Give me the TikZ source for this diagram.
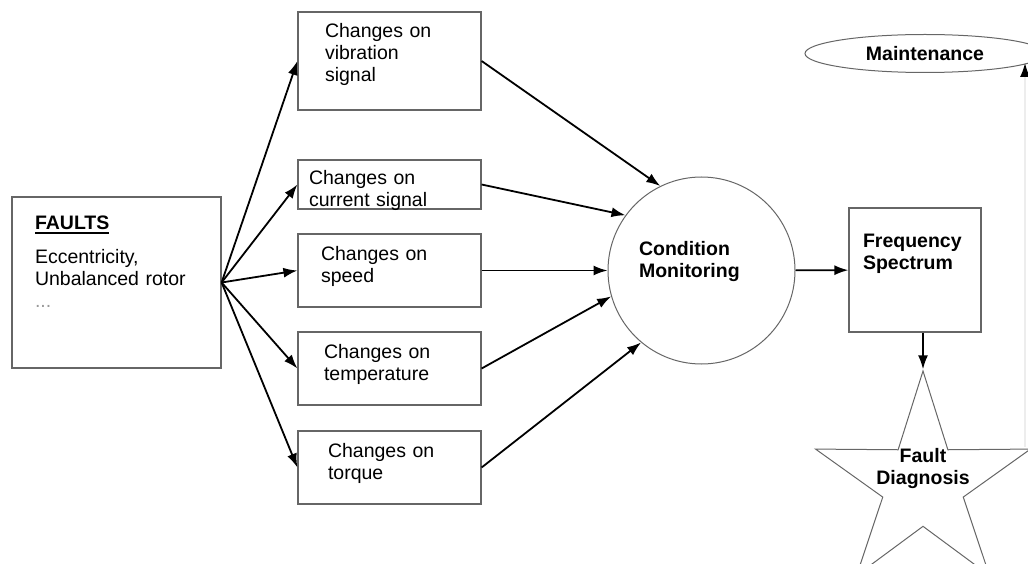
\documentclass[tikz,border=0pt]{standalone}
\usepackage{fontspec}
\setmainfont{Liberation Sans}
\usetikzlibrary{arrows.meta,shapes.geometric,shapes.misc}

\newcommand\diagfont{\fontsize{19.5}{22}\selectfont}
\newcommand\thickul[1]{\setbox0\hbox{#1}\rlap{\rule[-4pt]{\wd0}{1.8pt}}\box0}

\tikzset{
  boxline/.style = {draw=black!60, line width=1.2pt},
  changebox/.style = {boxline, minimum width=183pt, minimum height=73pt,
    inner sep=0pt, align=left, text depth=34pt, font=\diagfont},
  bold/.style = {font=\diagfont\bfseries},
  link/.style = {->, line width=1.8pt}
}

\begin{document}
\begin{tikzpicture}[x=1pt, y=-1pt, >={Latex[length=14pt,width=10pt]}]
  \useasboundingbox (0,0) rectangle (1028,564);

  % faults
  \node[boxline, minimum width=209pt, minimum height=171pt, inner sep=0pt,
        text width=163pt, align=left, text depth=119pt, font=\diagfont]
        (faults) at (116.5,282.5)
        {\thickul{\textbf{FAULTS}}\\[12pt] Eccentricity,\\ Unbalanced rotor\\ {\color{black!40}...}};

  % changes
  \node[changebox, minimum height=98pt, text width=129pt, text depth=62pt] (vib) at (389.5,61)
        {Changes on\\ vibration\\ signal};
  \node[changebox, minimum height=49pt, text width=161pt, text depth=15pt] (cur) at (389.5,184.5)
        {Changes on\\ current signal};
  \node[changebox, text width=137pt] (speed) at (389.5,270.5) {Changes on\\ speed};
  \node[changebox, text width=131pt] (temp) at (389.5,368.5) {Changes on\\ temperature};
  \node[changebox, text width=123pt] (torque) at (389.5,467.5) {Changes on\\ torque};

  % monitoring and diagnosis
  \node[boxline, line width=1pt, circle, minimum size=187pt, inner sep=0pt, bold,
        text width=125pt, align=left, text depth=45pt] (cm) at (701.5,270.5)
        {Condition\\ Monitoring};
  \node[boxline, minimum width=132pt, minimum height=124pt, inner sep=0pt, bold,
        text width=104pt, align=left, text depth=58pt] (freq) at (915,270)
        {Frequency\\ Spectrum};
  \node[boxline, line width=1pt, ellipse, minimum width=240pt, minimum height=38pt,
        inner sep=0pt, bold] (maint) at (925,53.5) {Maintenance};
  \node[boxline, line width=1pt, star, star points=5, star point ratio=2.67,
        minimum size=226pt, inner sep=0pt,
        label={[bold, text width=110pt, align=center, text depth=14pt, yshift=22pt]center:Fault\\ Diagnosis}]
        (diag) at (923,484) {};

  \foreach \b in {vib,cur,speed,temp,torque}
    \draw[link] (faults.east) -- (\b.west);
  \foreach \b/\a in {vib/116,cur/144,speed/180,temp/196,torque/230}
    \draw[link] (\b.east) -- (cm.\a);

  \draw[link] (cm) -- (freq);
  \draw[link] (diag.north |- freq.south) -- (diag.north);

  \coordinate (back) at (1025,447);
  \coordinate (backtip) at (1025,63);
  \draw[line width=1.5pt, draw=black!7, -{Latex[length=14pt,width=10pt,color=black]}] (back) -- (backtip);

\end{tikzpicture}
\end{document}
